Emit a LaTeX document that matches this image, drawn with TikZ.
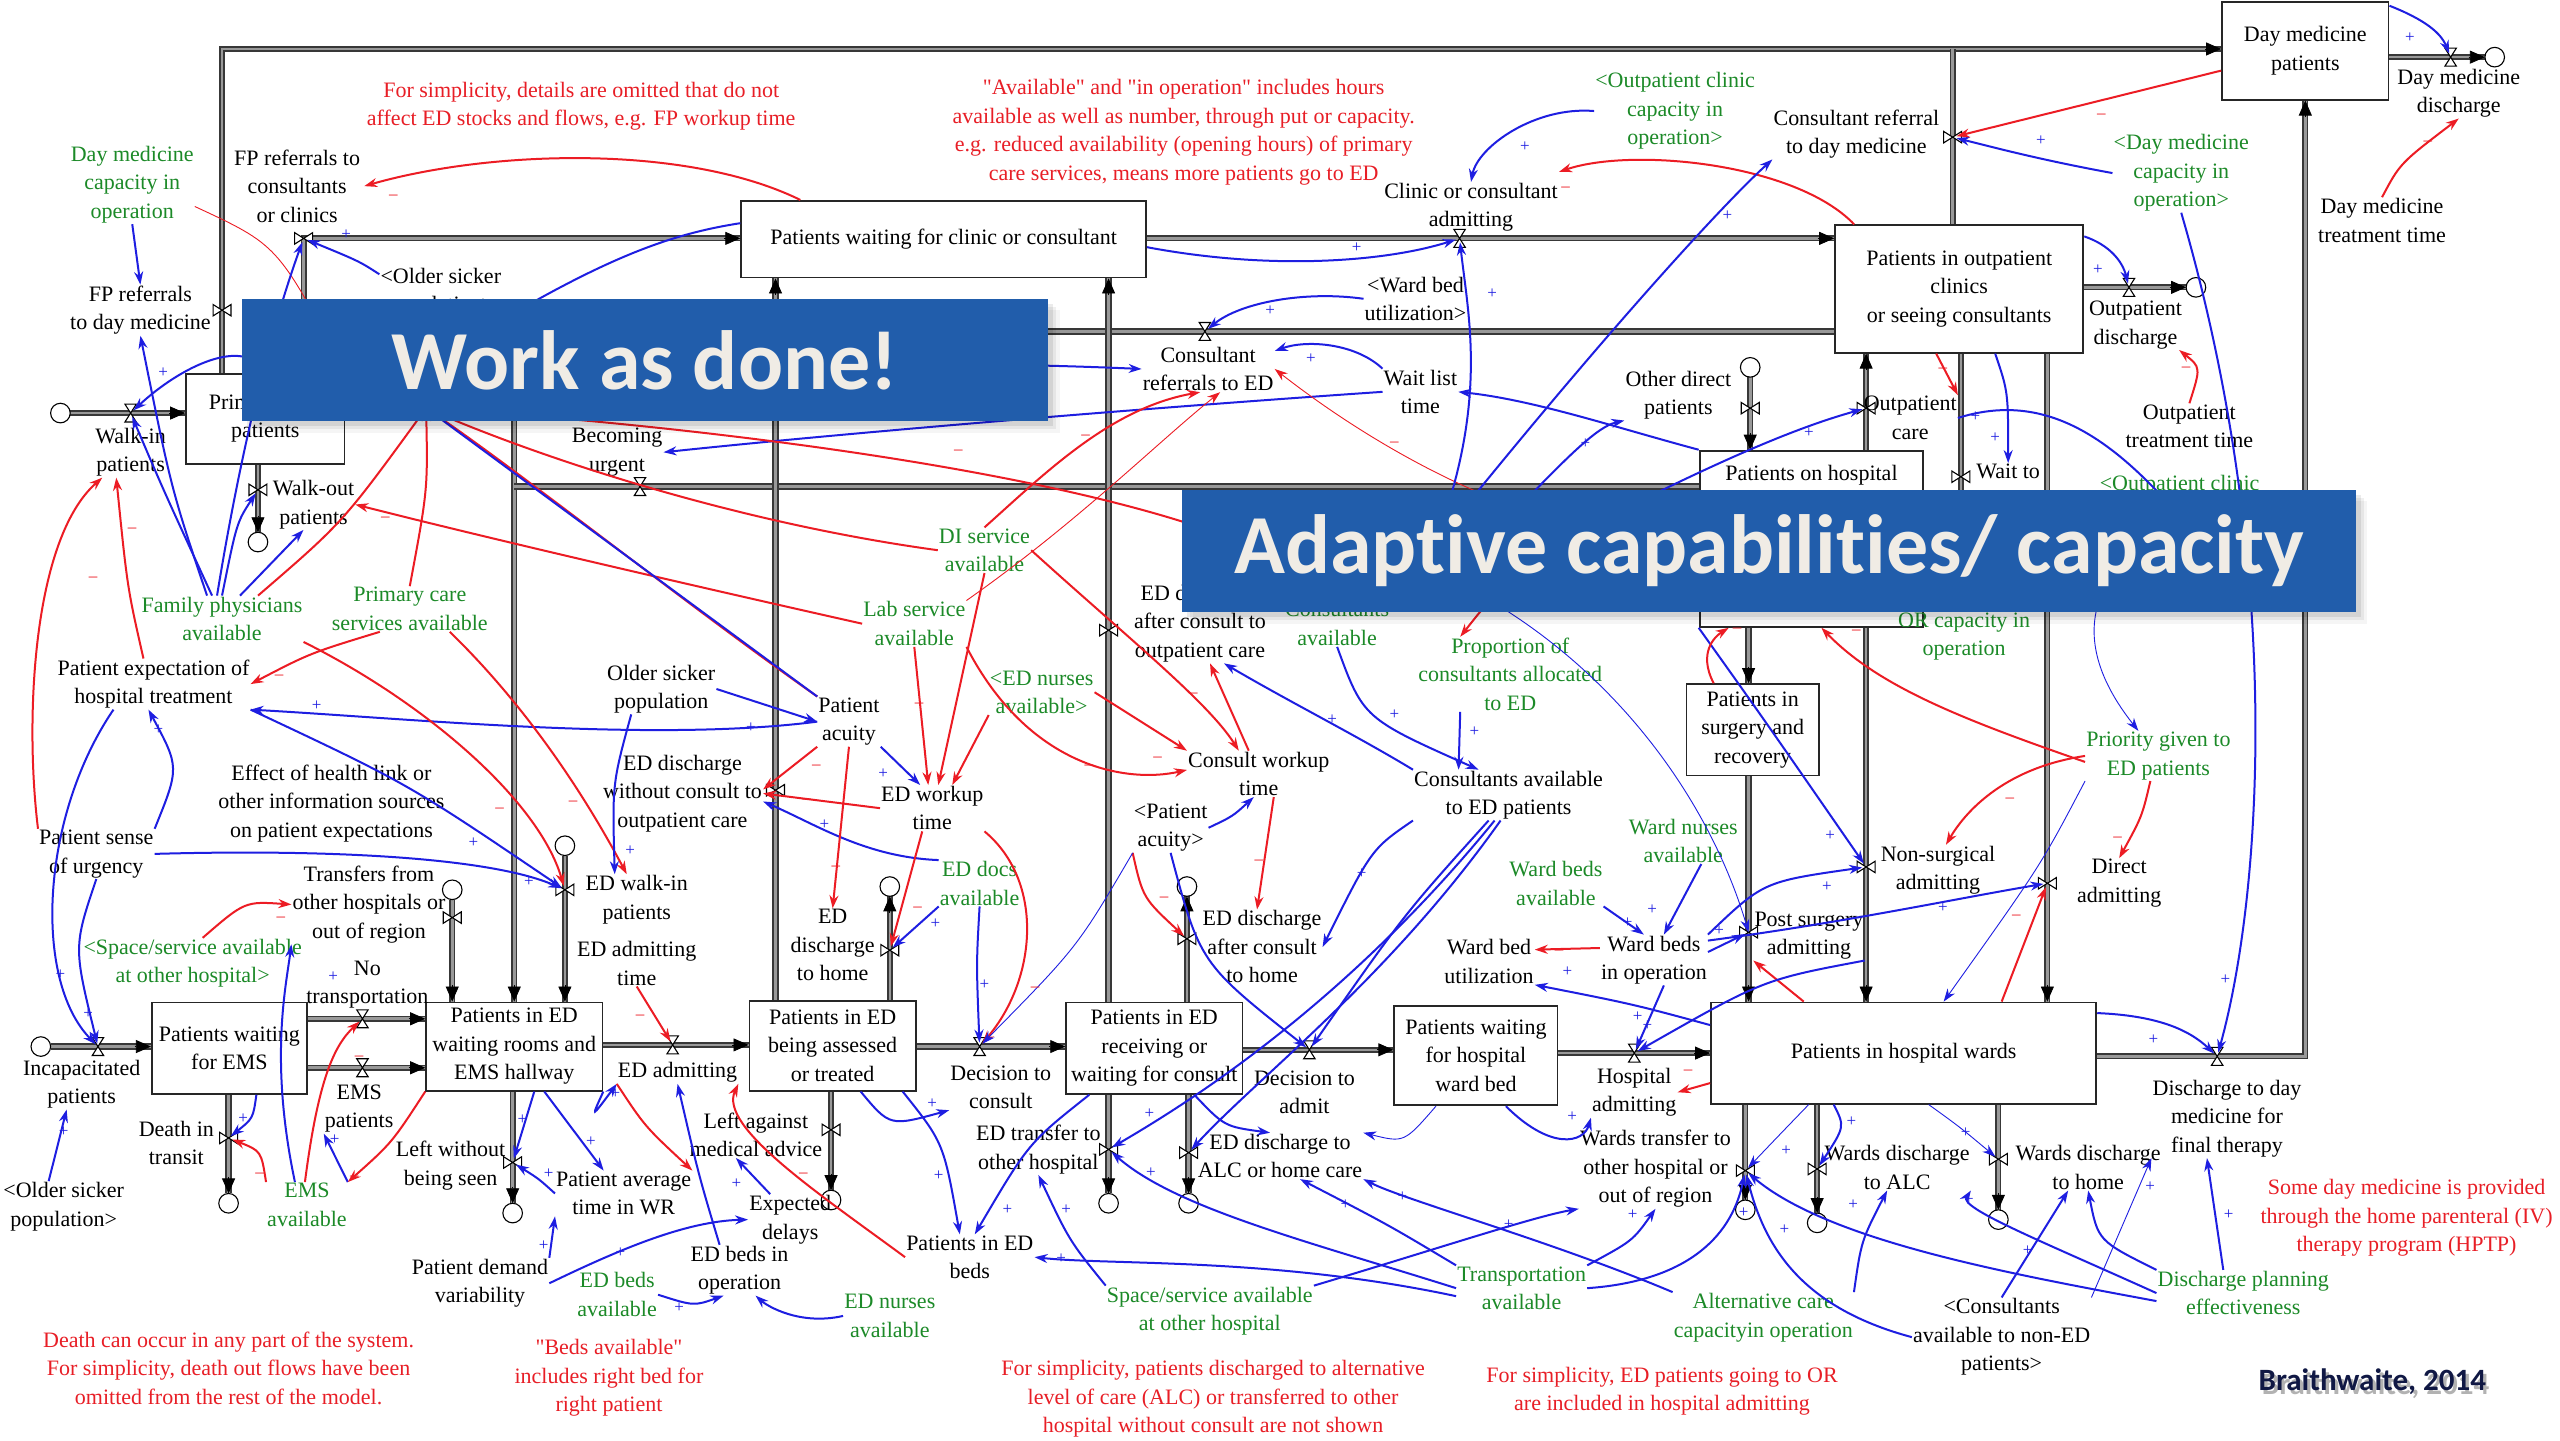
\documentclass[tikz,border=0pt]{standalone}
\usepackage{fontspec}
\setmainfont{Liberation Serif}
\newfontfamily\bannerfont[Ligatures={NoCommon}]{Carlito}
\usetikzlibrary{arrows.meta,calc}
\pgfdeclarelayer{paper}
\pgfdeclarelayer{pipes}
\pgfsetlayers{paper,pipes,main}
\definecolor{lblue}{RGB}{30,30,225}
\definecolor{lred}{RGB}{236,28,36}
\definecolor{vgreen}{RGB}{28,138,40}
\definecolor{nred}{RGB}{232,30,38}
\definecolor{banblue}{RGB}{33,93,171}
\definecolor{bantext}{RGB}{240,236,229}
\definecolor{navy}{RGB}{16,24,68}
\newcommand\dgf{\fontsize{22}{28.5}\selectfont}
\newcommand\sgf{\fontsize{17}{17}\selectfont}
\newcommand\q{\textquotedbl}
\tikzset{
  lbl/.style={font=\dgf, align=center, inner sep=1pt, text=black},
  glbl/.style={lbl, text=vgreen},
  note/.style={lbl, text=nred},
  stock/.style={draw=black!85, line width=1.8pt, fill=white, font=\dgf, align=center, inner sep=1pt},
  pipe/.style={draw=black!78, line width=1.8pt, double=black!40, double distance=2.6pt},
  ptip/.style={draw=black, line width=0.8pt, -{Triangle[length=15pt,width=13pt]}},
  lnk/.style={line width=2pt, -{Stealth[length=13pt,width=9pt]}},
  bl/.style={lnk, draw=lblue},
  blt/.style={bl, line width=0.9pt},
  rd/.style={lnk, draw=lred},
  rdt/.style={rd, line width=0.9pt},
  pl/.style={font=\sgf, text=lblue, inner sep=0pt},
  mi/.style={font=\sgf, text=lred, inner sep=0pt},
  valvepic/.pic={\draw[line width=1.1pt, fill=white] (-3.5,-5.5) -- (3.5,-5.5) -- (-3.5,5.5) -- (3.5,5.5) -- cycle;},
  cloudpic/.pic={\draw[line width=1.1pt, fill=white] (0,0) circle[radius=6];},
  banbox/.style={fill=banblue, inner sep=0pt, text=bantext, font=\bannerfont\bfseries\fontsize{84}{90}\selectfont},
}
\begin{document}
\begin{tikzpicture}[x=1.6327pt,y=-1.6327pt]
\begin{pgfonlayer}{paper}
\fill[white] (0,0) rectangle (1568,882);
\end{pgfonlayer}
\useasboundingbox (0,0) rectangle (1568,882);

% ---------- valve and cloud positions ----------
\coordinate (tl) at (136,30);
\coordinate (fpdmv) at (136,190);
\coordinate (fprv) at (186,146);
\coordinate (crdmv) at (1196,84);
\coordinate (dmdv) at (1501,35);
\coordinate (clinv) at (894,146);
\coordinate (credv) at (738,203);
\coordinate (edwx) at (315,203);
\coordinate (opdv) at (1304,176);
\coordinate (odpv) at (1072,250);
\coordinate (opcv) at (1143,250);
\coordinate (wtov) at (1201,292);
\coordinate (dadv) at (1254,541);
\coordinate (nsv) at (1143,531);
\coordinate (psv) at (1071,571);
\coordinate (buv) at (392,298);
\coordinate (pcv) at (261,250);
\coordinate (wiv) at (80,253);
\coordinate (wov) at (158,300);
\coordinate (edwocv) at (475,484);
\coordinate (edacv) at (679,386);
\coordinate (edwv) at (346,545);
\coordinate (trv) at (277,562);
\coordinate (incv) at (60,641);
\coordinate (ntv) at (222,624);
\coordinate (emv) at (222,654);
\coordinate (dtv) at (140,697);
\coordinate (edav) at (412,640);
\coordinate (lwv) at (314,712);
\coordinate (lav) at (509,692);
\coordinate (dcv) at (600,641);
\coordinate (edhv) at (545,582);
\coordinate (edchv) at (727,575);
\coordinate (edtv) at (679,704);
\coordinate (edalv) at (728,706);
\coordinate (dav) at (802,643);
\coordinate (hav) at (1001,645);
\coordinate (wtv) at (1069,717);
\coordinate (wav) at (1113,716);
\coordinate (whv) at (1224,710);
\coordinate (d2v) at (1358,647);
\coordinate (d2c) at (1412,647);
\coordinate (c_wi) at (37,253);
\coordinate (c_wo) at (158,332);
\coordinate (c_dm) at (1528,35);
\coordinate (c_op) at (1345,176);
\coordinate (c_odp) at (1072,225);
\coordinate (c_edw) at (346,518);
\coordinate (c_tr) at (277,545);
\coordinate (c_inc) at (25,641);
\coordinate (c_dt) at (140,737);
\coordinate (c_lw) at (314,743);
\coordinate (c_la) at (509,735);
\coordinate (c_edh) at (545,543);
\coordinate (c_edch) at (727,543);
\coordinate (c_edt) at (679,737);
\coordinate (c_edal) at (728,737);
\coordinate (c_wt) at (1069,741);
\coordinate (c_wa) at (1113,749);
\coordinate (c_wh) at (1224,747);

% ---------- stocks ----------
\path
  node[stock, minimum width=166.5pt, minimum height=98pt] (bdm) at (1412,31) {Day medicine\\patients}
  node[stock, minimum width=404.9pt, minimum height=76.7pt] (bpwc) at (578,146.5) {Patients waiting for clinic or consultant}
  node[stock, minimum width=248.2pt, minimum height=127.4pt] (bop) at (1200,177) {Patients in outpatient\\clinics\\or seeing consultants}
  node[stock, minimum width=158.4pt, minimum height=89.8pt] (bpc) at (162.5,256.5) {Primary care\\patients}
  node[stock, minimum width=223.7pt, minimum height=176.3pt] (bhw) at (1109.5,330) {}
  node[stock, minimum width=132.2pt, minimum height=91.4pt] (bsurg) at (1073.5,447) {Patients in\\surgery and\\recovery}
  node[stock, minimum width=155.1pt, minimum height=91.4pt] (bems) at (140.5,642) {Patients waiting\\for EMS}
  node[stock, minimum width=176.3pt, minimum height=88.2pt] (bwr) at (315,641) {Patients in ED\\waiting rooms and\\EMS hallway}
  node[stock, minimum width=166.5pt, minimum height=89.8pt] (bba) at (510,640.5) {Patients in ED\\being assessed\\or treated}
  node[stock, minimum width=176.3pt, minimum height=91.4pt] (brc) at (707,642) {Patients in ED\\receiving or\\waiting for consult}
  node[stock, minimum width=163.3pt, minimum height=99.6pt] (bwb) at (904,646.5) {Patients waiting\\for hospital\\ward bed}
  node[stock, minimum width=385.3pt, minimum height=101.2pt] (bwards) at (1166,645) {Patients in hospital wards};
\node[lbl] (bhwt) at (1109.5,291) {Patients on hospital};

% ---------- pipes (below the stocks) ----------
\begin{pgfonlayer}{pipes}
\draw[pipe] (bpc.north -| tl) -- (tl) -- (bdm.west |- tl);
\draw[pipe] (bpc.north -| fprv) -- (fprv) -- (bpwc.west |- fprv);
\draw[pipe] (bop.north -| crdmv) -- (crdmv |- tl);
\draw[pipe] (bdm.east |- dmdv) -- ($(c_dm)+(-6,0)$);
\draw[pipe] (bpwc.east |- clinv) -- (bop.west |- clinv);
\draw[pipe] (bop.west |- credv) -- (edwx) -- (bwr.north -| edwx);
\draw[pipe] (bop.east |- opdv) -- ($(c_op)+(-6,0)$);
\draw[pipe] ($(c_odp)+(0,6)$) -- (bhw.north -| c_odp);
\draw[pipe] (bhw.north -| opcv) -- (bop.south -| opcv);
\draw[pipe] (bop.south -| wtov) -- ($(wtov)+(0,22)$);
\draw[pipe] (bop.south -| dadv) -- (bwards.north -| dadv);
\draw[pipe] (bhw.south -| nsv) -- (bwards.north -| nsv);
\draw[pipe] (bhw.south -| psv) -- (bsurg.north -| psv);
\draw[pipe] (bsurg.south -| psv) -- (bwards.north -| psv);
\draw[pipe] (bhw.west |- buv) -- (buv -| edwx);
\draw[pipe] (bpc.east |- pcv) -- (pcv -| edwx);
\draw[pipe] ($(c_wi)+(6,0)$) -- (bpc.west |- wiv);
\draw[pipe] (bpc.south -| wov) -- ($(c_wo)+(0,-6)$);
\draw[pipe] (bba.north -| edwocv) -- (bpwc.south -| edwocv);
\draw[pipe] (brc.north -| edacv) -- (bpwc.south -| edacv);
\draw[pipe] ($(c_edw)+(0,6)$) -- (bwr.north -| edwv);
\draw[pipe] ($(c_tr)+(0,6)$) -- (bwr.north -| trv);
\draw[pipe] ($(c_inc)+(6,0)$) -- (bems.west |- incv);
\draw[pipe] (bems.east |- ntv) -- (bwr.west |- ntv);
\draw[pipe] (bems.east |- emv) -- (bwr.west |- emv);
\draw[pipe] (bems.south -| dtv) -- ($(c_dt)+(0,-6)$);
\draw[pipe] (bwr.east |- edav) -- (bba.west |- edav);
\draw[pipe] (bwr.south -| lwv) -- ($(c_lw)+(0,-6)$);
\draw[pipe] (bba.south -| lav) -- ($(c_la)+(0,-6)$);
\draw[pipe] (bba.east |- dcv) -- (brc.west |- dcv);
\draw[pipe] (bba.north -| edhv) -- ($(c_edh)+(0,6)$);
\draw[pipe] (brc.north -| edchv) -- ($(c_edch)+(0,6)$);
\draw[pipe] (brc.south -| edtv) -- ($(c_edt)+(0,-6)$);
\draw[pipe] (brc.south -| edalv) -- ($(c_edal)+(0,-6)$);
\draw[pipe] (brc.east |- dav) -- (bwb.west |- dav);
\draw[pipe] (bwb.east |- hav) -- (bwards.west |- hav);
\draw[pipe] (bwards.south -| wtv) -- ($(c_wt)+(0,-6)$);
\draw[pipe] (bwards.south -| wav) -- ($(c_wa)+(0,-6)$);
\draw[pipe] (bwards.south -| whv) -- ($(c_wh)+(0,-6)$);
\draw[pipe] (bwards.east |- d2v) -- (d2c) -- (bdm.south -| d2c);
\end{pgfonlayer}

% pipe arrow tips
\draw[ptip] ($(bdm.west |- tl)+(-10,0)$) -- (bdm.west |- tl);
\draw[ptip] ($(bpwc.west |- fprv)+(-10,0)$) -- (bpwc.west |- fprv);
\draw[ptip] ($(c_dm)+(-16,0)$) -- ($(c_dm)+(-6,0)$);
\draw[ptip] ($(bop.west |- clinv)+(-10,0)$) -- (bop.west |- clinv);
\draw[ptip] ($(bwr.north -| edwx)+(0,-10)$) -- (bwr.north -| edwx);
\draw[ptip] ($(c_op)+(-16,0)$) -- ($(c_op)+(-6,0)$);
\draw[ptip] ($(bhw.north -| c_odp)+(0,-10)$) -- (bhw.north -| c_odp);
\draw[ptip] ($(bop.south -| opcv)+(0,10)$) -- (bop.south -| opcv);
\draw[ptip] ($(bwards.north -| dadv)+(0,-10)$) -- (bwards.north -| dadv);
\draw[ptip] ($(bwards.north -| nsv)+(0,-10)$) -- (bwards.north -| nsv);
\draw[ptip] ($(bsurg.north -| psv)+(0,-10)$) -- (bsurg.north -| psv);
\draw[ptip] ($(bwards.north -| psv)+(0,-10)$) -- (bwards.north -| psv);
\draw[ptip] ($(bpc.west |- wiv)+(-10,0)$) -- (bpc.west |- wiv);
\draw[ptip] ($(c_wo)+(0,-16)$) -- ($(c_wo)+(0,-6)$);
\draw[ptip] ($(bpwc.south -| edwocv)+(0,10)$) -- (bpwc.south -| edwocv);
\draw[ptip] ($(bpwc.south -| edacv)+(0,10)$) -- (bpwc.south -| edacv);
\draw[ptip] ($(bwr.north -| edwv)+(0,-10)$) -- (bwr.north -| edwv);
\draw[ptip] ($(bwr.north -| trv)+(0,-10)$) -- (bwr.north -| trv);
\draw[ptip] ($(bems.west |- incv)+(-10,0)$) -- (bems.west |- incv);
\draw[ptip] ($(bwr.west |- ntv)+(-10,0)$) -- (bwr.west |- ntv);
\draw[ptip] ($(bwr.west |- emv)+(-10,0)$) -- (bwr.west |- emv);
\draw[ptip] ($(c_dt)+(0,-16)$) -- ($(c_dt)+(0,-6)$);
\draw[ptip] ($(bba.west |- edav)+(-10,0)$) -- (bba.west |- edav);
\draw[ptip] ($(c_lw)+(0,-16)$) -- ($(c_lw)+(0,-6)$);
\draw[ptip] ($(c_la)+(0,-16)$) -- ($(c_la)+(0,-6)$);
\draw[ptip] ($(brc.west |- dcv)+(-10,0)$) -- (brc.west |- dcv);
\draw[ptip] ($(c_edh)+(0,16)$) -- ($(c_edh)+(0,6)$);
\draw[ptip] ($(c_edch)+(0,16)$) -- ($(c_edch)+(0,6)$);
\draw[ptip] ($(c_edt)+(0,-16)$) -- ($(c_edt)+(0,-6)$);
\draw[ptip] ($(c_edal)+(0,-16)$) -- ($(c_edal)+(0,-6)$);
\draw[ptip] ($(bwb.west |- dav)+(-10,0)$) -- (bwb.west |- dav);
\draw[ptip] ($(bwards.west |- hav)+(-10,0)$) -- (bwards.west |- hav);
\draw[ptip] ($(c_wt)+(0,-16)$) -- ($(c_wt)+(0,-6)$);
\draw[ptip] ($(c_wa)+(0,-16)$) -- ($(c_wa)+(0,-6)$);
\draw[ptip] ($(c_wh)+(0,-16)$) -- ($(c_wh)+(0,-6)$);
\draw[ptip] ($(bdm.south -| d2c)+(0,10)$) -- (bdm.south -| d2c);

% valves and clouds
\foreach \v in {dmdv,clinv,credv,opdv,buv,wiv,incv,ntv,emv,edav,dcv,dav,hav,d2v}
  \pic at (\v) {valvepic};
\foreach \v in {fpdmv,fprv,crdmv,odpv,opcv,wtov,dadv,nsv,psv,edwocv,edacv,edwv,trv,dtv,lwv,lav,edhv,edchv,edtv,edalv,wtv,wav,whv,wov}
  \pic[rotate=90] at (\v) {valvepic};
\foreach \c in {c_wi,c_wo,c_dm,c_op,c_odp,c_edw,c_tr,c_inc,c_dt,c_lw,c_la,c_edh,c_edch,c_edt,c_edal,c_wt,c_wa,c_wh}
  \pic at (\c) {cloudpic};

% ---------- variable names ----------
\node[lbl] (cref2dm) at (1137,82) {Consultant referral\\to day medicine};
\node[lbl] (dmdis) at (1506,57) {Day medicine\\discharge};
\node[lbl] (dmtt) at (1459,135) {Day medicine\\treatment time};
\node[lbl] (clinadm) at (901,127) {Clinic or consultant\\admitting};
\node[lbl] (wbutil1) at (867,183) {<Ward bed\\utilization>};
\node[lbl] (opdis) at (1308,199) {Outpatient\\discharge};
\node[lbl] (optt) at (1341,261) {Outpatient\\treatment time};
\node[lbl] (cref2ed) at (740,226) {Consultant\\referrals to ED};
\node[lbl] (wlt) at (870,240) {Wait list\\time};
\node[lbl] (odp) at (1028,242) {Other direct\\patients};
\node[lbl] (opcare) at (1170,256) {Outpatient\\care};
\node[lbl] (waitto) at (1230,299) {Wait to\\surgery};
\node[lbl] (fpref) at (182,114) {FP referrals to\\consultants\\or clinics};
\node[lbl] (fpdm) at (86,190) {FP referrals\\to day medicine};
\node[lbl] (olds1) at (270,179) {<Older sicker\\population>};
\node[lbl] (walkin) at (80,277) {Walk-in\\patients};
\node[lbl] (walkout) at (192,309) {Walk-out\\patients};
\node[lbl] (becurg) at (378,277) {Becoming\\urgent};
\node[lbl] (pexp) at (94,419) {Patient expectation of\\hospital treatment};
\node[lbl] (effhl) at (203,492) {Effect of health link or\\other information sources\\on patient expectations};
\node[lbl] (psense) at (59,523) {Patient sense\\of urgency};
\node[lbl] (transf) at (226,554) {Transfers from\\other hospitals or\\out of region};
\node[lbl] (olds2) at (405,422) {Older sicker\\population};
\node[lbl] (pacu) at (520,442) {Patient\\acuity};
\node[lbl] (edwoc) at (418,486) {ED discharge\\without consult to\\outpatient care};
\node[lbl] (edwt) at (571,495) {ED workup\\time};
\node[lbl] (edwalk) at (390,551) {ED walk-in\\patients};
\node[lbl] (edat) at (390,590) {ED admitting\\time};
\node[lbl] (eddh) at (510,579) {ED\\discharge\\to home};
\node[lbl] (edac) at (735,382) {ED discharge\\after consult to\\outpatient care};
\node[lbl] (cwt) at (771,474) {Consult workup\\time};
\node[lbl] (pacu2) at (717,507) {<Patient\\acuity>};
\node[lbl] (edach) at (773,580) {ED discharge\\after consult\\to home};
\node[lbl] (cavail) at (924,487) {Consultants available\\to ED patients};
\node[lbl] (wbutil) at (912,589) {Ward bed\\utilization};
\node[lbl] (wbop) at (1013,588) {Ward beds\\in operation};
\node[lbl] (nsadm) at (1187,533) {Non-surgical\\admitting};
\node[lbl] (dadm) at (1298,541) {Direct\\admitting};
\node[lbl] (psadm) at (1108,573) {Post surgery\\admitting};
\node[lbl] (incap) at (50,664) {Incapacitated\\patients};
\node[lbl] (notrans) at (225,603) {No\\transportation};
\node[lbl] (emsp) at (220,679) {EMS\\patients};
\node[lbl] (death) at (108,700) {Death in\\transit};
\node[lbl] (edadm) at (415,657) {ED admitting};
\node[lbl] (lwbs) at (276,714) {Left without\\being seen};
\node[lbl] (lama) at (463,695) {Left against\\medical advice};
\node[lbl] (dcons) at (613,666) {Decision to\\consult};
\node[lbl] (edtr) at (636,704) {ED transfer to\\other hospital};
\node[lbl] (edalc) at (784,708) {ED discharge to\\ALC or home care};
\node[lbl] (dadmit) at (799,669) {Decision to\\admit};
\node[lbl] (hadm) at (1001,669) {Hospital\\admitting};
\node[lbl] (wtr) at (1014,716) {Wards transfer to\\other hospital or\\out of region};
\node[lbl] (wdalc) at (1162,715) {Wards discharge\\to ALC};
\node[lbl] (wdh) at (1279,715) {Wards discharge\\to home};
\node[lbl] (d2dm) at (1364,685) {Discharge to day\\medicine for\\final therapy};
\node[lbl] (olds3) at (39,739) {<Older sicker\\population>};
\node[lbl] (pawr) at (382,731) {Patient average\\time in WR};
\node[lbl] (pdv) at (294,786) {Patient demand\\variability};
\node[lbl] (edbop) at (453,778) {ED beds in\\operation};
\node[lbl] (expd) at (484,747) {Expected\\delays};
\node[lbl] (pedb) at (594,770) {Patients in ED\\beds};
\node[lbl] (cnon) at (1226,819) {<Consultants\\available to non-ED\\patients>};

% capacity variables
\node[glbl] (dmcap) at (81,113) {Day medicine\\capacity in\\operation};
\node[glbl] (opcap) at (1026,68) {<Outpatient clinic\\capacity in\\operation>};
\node[glbl] (dmcap2) at (1336,106) {<Day medicine\\capacity in\\operation>};
\node[glbl] (opclin2) at (1335,297) {<Outpatient clinic};
\node[glbl] (famphys) at (136,379) {Family physicians\\available};
\node[glbl] (pcs) at (251,373) {Primary care\\services available};
\node[glbl] (spother) at (118,590) {<Space/service available\\at other hospital>};
\node[glbl] (disvc) at (603,337) {DI service\\available};
\node[glbl] (lab) at (560,382) {Lab service\\available};
\node[glbl] (ednurse2) at (638,424) {<ED nurses\\available>};
\node[glbl] (cons) at (819,382) {Consultants\\available};
\node[glbl] (prop) at (925,413) {Proportion of\\consultants allocated\\to ED};
\node[glbl] (eddocs) at (600,541) {ED docs\\available};
\node[glbl] (wnurse) at (1031,515) {Ward nurses\\available};
\node[glbl] (wbav) at (953,541) {Ward beds\\available};
\node[glbl] (prio) at (1322,463) {Priority given to\\ED patients};
\node[glbl] (orcap) at (1203,390) {OR capacity in\\operation};
\node[glbl] (emsav) at (188,738) {EMS\\available};
\node[glbl] (edbav) at (378,793) {ED beds\\available};
\node[glbl] (ednurse) at (545,806) {ED nurses\\available};
\node[glbl] (spother2) at (741,803) {Space/service available\\at other hospital};
\node[glbl] (transp) at (932,789) {Transportation\\available};
\node[glbl] (altc) at (1080,807) {Alternative care\\capacityin operation};
\node[glbl] (dpe) at (1374,792) {Discharge planning\\effectiveness};

% notes
\node[note] (n1) at (356,65) {For simplicity, details are omitted that do not\\affect ED stocks and flows, e.g. FP workup time};
\node[note] (n2) at (725,81) {\q Available\q{} and \q in operation\q{} includes hours\\available as well as number, through put or capacity.\\e.g. reduced availability (opening hours) of primary\\care services, means more patients go to ED};
\node[note] (n3) at (140,838) {Death can occur in any part of the system.\\For simplicity, death out flows have been\\omitted from the rest of the model.};
\node[note] (n4) at (373,844) {\q Beds available\q\\includes right bed for\\right patient};
\node[note] (n5) at (743,857) {For simplicity, patients discharged to alternative\\level of care (ALC) or transferred to other\\hospital without consult are not shown};
\node[note] (n6) at (1018,852) {For simplicity, ED patients going to OR\\are included in hospital admitting};
\node[note] (n7) at (1474,746) {Some day medicine is provided\\through the home parenteral (IV)\\therapy program (HPTP)};

% ---------- causal links: top band ----------
\draw[rd] ([xshift=60pt]bpwc.north west) .. controls (420,88) and (300,92) .. ([xshift=3pt]fpref.east);
\draw[bl, shorten >=4pt] ([yshift=18pt]olds1.west) .. controls (220,160) .. (fprv);
\draw[bl] (dmcap.south) -- (fpdm.north);
\draw[rdt] ([yshift=-22pt]dmcap.east) .. controls (170,150) .. (bpc.north east);
\draw[bl] ([yshift=16pt]bpwc.west) .. controls (400,145) and (350,165) .. (bpc.east);
\draw[bl] (bpc) .. controls (400,222) and (560,220) .. (cref2ed.west);
\draw[bl] (wlt.west) .. controls (700,250) and (520,265) .. (becurg.east);
\draw[rd] (cons.north) .. controls (760,300) and (450,262) .. (pcv);
\draw[rd] (disvc.north) .. controls (640,290) and (680,250) .. ([xshift=-8pt]cref2ed.south);
\draw[rdt] (lab.north east) .. controls (660,320) and (710,270) .. ([xshift=12pt]cref2ed.south);
\draw[rdt] (bhw.west) .. controls (950,335) and (850,280) .. (cref2ed.east);
\draw[bl] (wlt.north west) .. controls (830,210) and (800,208) .. ([yshift=18pt]cref2ed.east);
\draw[bl, shorten >=4pt] ([yshift=-8pt]bpwc.east) .. controls (780,166) and (850,160) .. (clinv);
\draw[bl, shorten >=4pt] (wbutil1.west) .. controls (800,178) and (760,185) .. (credv);
\draw[bl] (opcap.west) .. controls (940,65) and (905,90) .. (clinadm.north);
\draw[rd] ([xshift=20pt]bop.north west) .. controls (1100,100) and (1000,90) .. ([yshift=10pt]clinadm.north east);
\draw[bl] (cons.north east) .. controls (960,230) and (1050,130) .. (cref2dm.south west);
\draw[bl, shorten >=4pt] ([xshift=20pt]cons.north east) .. controls (915,260) and (900,200) .. (clinv);
\draw[bl] (bhw.north west) .. controls (990,262) and (940,245) .. (wlt.east);
\draw[bl] ([xshift=40pt]cons.north east) .. controls (950,290) and (975,262) .. (odp.south west);
\draw[bl, shorten >=4pt] ([xshift=60pt]cons.north east) .. controls (1040,285) and (1100,262) .. (opcv);
\draw[bl, shorten >=4pt] (dmcap2.west) .. controls (1250,98) and (1220,90) .. (crdmv);
\draw[rd, shorten >=4pt] ([yshift=-20pt]bdm.west) -- (crdmv);
\draw[bl, shorten >=4pt] ([yshift=-5pt]bdm.north east) .. controls (1485,12) and (1495,20) .. (dmdv);
\draw[rd] (dmtt.north) .. controls (1470,100) .. (dmdis.south);
\draw[bl, shorten >=4pt] ([yshift=-12pt]bop.north east) .. controls (1292,150) and (1300,160) .. (opdv);
\draw[rd] (optt.north) .. controls (1348,225) .. ([xshift=-4pt]opdis.south east);
\draw[rd] ([xshift=-23pt]bop.south) -- (opcare.north east);
\draw[bl] ([xshift=36pt]bop.south) .. controls (1230,240) .. (waitto.north);
\draw[bl] (opcare.east) .. controls (1250,240) and (1290,265) .. ([yshift=-20pt]opclin2.south);

% ---------- causal links: primary care side ----------
\draw[bl] ([xshift=-15pt]famphys.north) .. controls (105,300) .. (fpdm.south);
\draw[bl, shorten >=4pt] ([xshift=-10pt]famphys.north) .. controls (100,300) .. (wiv);
\draw[bl, shorten >=4pt] ([xshift=-5pt]famphys.north) .. controls (150,260) and (170,190) .. (fprv);
\draw[bl, shorten >=4pt] (famphys.north) .. controls (145,320) .. (wov);
\draw[bl] ([xshift=18pt]famphys.north) -- ([xshift=-10pt]walkout.south);
\draw[rd] ([xshift=36pt]famphys.north) .. controls (210,320) .. (pcv);
\draw[rd] (pcs.north) .. controls (262,300) .. (pcv);
\draw[rd] ([xshift=-30pt]pcs.south) .. controls (190,400) .. (pexp.east);
\draw[bl, shorten >=4pt] (bpc.north) .. controls (150,205) and (110,225) .. (wiv);
\draw[rd] (psense.north west) .. controls (15,440) and (20,330) .. ([xshift=8pt]walkin.south west);
\draw[rd] ([xshift=-10pt]pexp.north) .. controls (78,360) .. ([xshift=22pt]walkin.south west);
\draw[bl, shorten >=3pt] ([xshift=-40pt]pexp.south) .. controls (25,500) and (20,600) .. (incv);
\draw[bl, shorten >=3pt] (psense.south) .. controls (45,580) .. (incv);
\draw[bl] ([xshift=-15pt]olds3.north) -- ([xshift=-15pt]incap.south);
\draw[bl] (psense.north east) .. controls (110,470) .. ([xshift=-5pt]pexp.south);
\draw[bl] (pacu.west) .. controls (400,455) and (250,440) .. (pexp.south east);
\draw[bl, shorten >=4pt] (pexp.south east) .. controls (250,480) .. (edwv);
\draw[bl, shorten >=4pt] (psense.east) .. controls (200,520) and (300,525) .. (edwv);
\draw[rd, shorten >=4pt] (famphys.south east) .. controls (260,430) and (330,490) .. (edwv);
\draw[rd] ([xshift=40pt]pcs.south) .. controls (330,440) and (365,500) .. ([xshift=-10pt]edwalk.north);
\draw[bl] ([xshift=-30pt]olds2.south) .. controls (375,480) .. ([xshift=-22pt]edwalk.north);
\draw[bl] (olds2.east) -- (pacu.west);
\draw[rd] (lab.west) .. controls (430,360) and (300,330) .. (walkout.east);
\draw[rd] (disvc.west) .. controls (450,320) and (330,280) .. (pcv);
\draw[rd] (pacu.north west) .. controls (420,370) and (320,290) .. (pcv);
\draw[bl] (pacu.north west) -- (pcv);

% ---------- causal links: ED work-up ----------
\draw[rd] (pacu.south west) -- ([yshift=4pt]edwoc.east);
\draw[rd] (edwt.west) -- (edwoc.east);
\draw[bl] (eddocs.north west) .. controls (530,525) and (500,505) .. ([yshift=-8pt]edwoc.east);
\draw[rd] (pacu.south) -- (eddh.north);
\draw[bl] (pacu.south east) -- ([xshift=-12pt]edwt.north);
\draw[rd] (lab.south) -- ([xshift=-4pt]edwt.north);
\draw[rd] (disvc.south) -- ([xshift=6pt]edwt.north);
\draw[rd] (ednurse2.south west) -- ([xshift=20pt]edwt.north);
\draw[rd, shorten >=4pt] ([xshift=-10pt]edwt.south) -- (edhv);
\draw[rd, shorten >=4pt] (edwt.south east) .. controls (640,540) and (635,600) .. (dcv);
\draw[bl, shorten >=4pt] (eddocs.south west) -- (edhv);
\draw[bl, shorten >=4pt] (eddocs.south) .. controls (598,590) .. (dcv);
\draw[rd] (lab.south east) .. controls (630,470) and (690,480) .. ([yshift=4pt]cwt.west);
\draw[rd] (disvc.east) .. controls (690,390) and (740,430) .. ([xshift=-20pt]cwt.north);
\draw[rd] (ednurse2.east) -- (cwt.north west);
\draw[rd] ([xshift=-10pt]cwt.north) -- ([xshift=10pt]edac.south);
\draw[bl] (cavail.north west) .. controls (830,450) and (790,430) .. ([xshift=24pt]edac.south);
\draw[bl] (pacu2.east) .. controls (755,500) .. ([xshift=-5pt]cwt.south);
\draw[rd] ([xshift=15pt]cwt.south) -- ([xshift=-5pt]edach.north);
\draw[rd, shorten >=4pt] (pacu2.south west) .. controls (700,550) .. (edchv);
\draw[blt, shorten >=4pt] (pacu2.south west) .. controls (660,580) .. (dcv);
\draw[bl, shorten >=4pt] (pacu2.south) .. controls (735,590) .. (dav);
\draw[bl] (cavail.south west) .. controls (840,520) .. (edach.east);
\draw[bl, shorten >=4pt] ([xshift=-20pt]cavail.south) .. controls (860,560) .. (dav);
\draw[bl, shorten >=4pt] ([xshift=-14pt]cavail.south) .. controls (820,620) and (720,680) .. (edtv);
\draw[bl, shorten >=4pt] ([xshift=-8pt]cavail.south) .. controls (850,600) and (770,660) .. (edalv);
\draw[bl] (cons.south) .. controls (835,440) .. ([xshift=-30pt]cavail.north);
\draw[bl] ([xshift=-50pt]prop.south) -- ([xshift=-50pt]cavail.north);
\draw[rd] (bhw.west) .. controls (930,345) .. ([xshift=-50pt]prop.north);
\draw[blt] ([xshift=100pt]cons.north east) .. controls (1000,420) and (1050,500) .. (psv);

% ---------- causal links: hospital side ----------
\draw[bl, shorten >=4pt] (bhw.south west) .. controls (1080,440) .. (nsv);
\draw[bl, shorten >=4pt] (wbop.north east) .. controls (1080,540) .. (nsv);
\draw[rd] (prio.west) .. controls (1230,470) and (1205,495) .. ([xshift=8pt]nsadm.north);
\draw[rd] ([yshift=-6pt]prio.west) .. controls (1200,440) and (1150,420) .. ([xshift=10pt]bhw.south);
\draw[rd] ([xshift=-8pt]prio.south) .. controls (1312,500) .. (dadm.north);
\draw[blt] ([yshift=-20pt]opclin2.south) .. controls (1260,360) and (1280,410) .. ([xshift=-20pt]prio.north);
\draw[blt] (prio.south west) .. controls (1250,530) .. ([xshift=40pt]bwards.north);
\draw[bl, shorten >=4pt] ([yshift=-6pt]wbop.north east) .. controls (1130,565) and (1200,550) .. (dadv);
\draw[rd, shorten >=4pt] ([xshift=98pt]bwards.north) -- (dadv);
\draw[bl] ([xshift=18pt]wnurse.south) -- ([xshift=10pt]wbop.north);
\draw[bl] (wbav.south east) -- ([xshift=-10pt]wbop.north);
\draw[rd] ([yshift=12pt]wbop.west) -- ([yshift=12pt]wbutil.east);
\draw[bl, shorten >=4pt] ([yshift=8pt]wbop.east) -- (psv);
\draw[rd] ([xshift=-100pt]bwards.north) -- (psadm.south west);
\draw[rd] ([xshift=28pt]bsurg.north west) .. controls (1040,400) and (1050,390) .. ([xshift=30pt]bhw.south west);
\draw[bl, shorten >=4pt] ([xshift=10pt]wbop.south) -- (hav);
\draw[bl, shorten >=4pt] (psadm.south east) .. controls (1080,600) .. (hav);
\draw[rd] ([yshift=-30pt]bwards.west) -- (hadm.east);
\draw[bl] ([yshift=28pt]bwards.west) .. controls (1000,615) .. (wbutil.south east);
\draw[bl] ([xshift=30pt]bwb.south) .. controls (950,705) and (970,700) .. (hadm.south west);
\draw[blt] ([xshift=-40pt]bwb.south) .. controls (860,700) .. (edalc.north east);

% ---------- causal links: EMS and ED front end ----------
\draw[rd, shorten >=4pt] (emsav.north west) .. controls (160,705) .. (dtv);
\draw[rd, shorten >=4pt] ([xshift=-2pt]emsav.north) .. controls (195,660) and (205,640) .. (ntv);
\draw[bl] (emsav.north east) -- (emsp.south west);
\draw[bl] ([xshift=-12pt]emsav.north) .. controls (165,650) and (175,605) .. (transf.south west);
\draw[rd] ([xshift=10pt]spother.north) .. controls (150,552) .. (transf.west);
\draw[bl, shorten >=3pt] ([xshift=27pt]bems.south) .. controls (155,685) .. (dtv);
\draw[rd] (bwr.south west) .. controls (240,700) .. (emsav.north east);
\draw[bl, shorten >=4pt] ([xshift=20pt]bwr.south) -- (lwv);
\draw[bl, shorten >=4pt] (pawr.west) .. controls (330,722) .. (lwv);
\draw[bl] ([xshift=30pt]bwr.south) -- ([xshift=-20pt]pawr.north);
\draw[bl] (bwr.south east) .. controls (362,685) .. (edadm.south west);
\draw[bl] (pdv.north east) -- (pawr.south west);
\draw[bl] (pdv.east) .. controls (380,765) and (420,748) .. (expd.west);
\draw[bl] (edbav.east) .. controls (425,800) .. ([xshift=-16pt]edbop.south);
\draw[bl] (ednurse.west) .. controls (490,812) and (470,800) .. ([xshift=16pt]edbop.south);
\draw[bl] ([xshift=-20pt]edbop.north) .. controls (428,720) .. (edadm.south);
\draw[bl] ([xshift=-20pt]expd.north) -- ([xshift=-20pt]lama.south);
\draw[rd] (pedb.west) .. controls (500,730) and (440,690) .. (edadm.south east);
\draw[rd, shorten >=4pt] (edat.south) -- (edav);
\draw[rd] (edadm.south west) .. controls (395,690) .. (pawr.north east);
\draw[bl] ([xshift=28pt]bba.south) .. controls (545,690) .. (dcons.south west);
\draw[bl] ([xshift=70pt]bba.south) .. controls (578,700) .. ([xshift=-10pt]pedb.north);
\draw[bl] ([xshift=-65pt]brc.south) .. controls (630,700) .. ([xshift=5pt]pedb.north);
\draw[bl] ([xshift=40pt]brc.south) .. controls (750,690) .. ([xshift=-10pt]edalc.north);

% ---------- causal links: discharge side ----------
\draw[bl, shorten >=4pt] (transp.west) .. controls (800,760) and (720,740) .. (edtv);
\draw[bl] ([yshift=-8pt]transp.west) .. controls (780,770) and (680,775) .. (pedb.east);
\draw[bl] (spother2.north west) .. controls (655,760) .. (edtr.south);
\draw[bl] (altc.north west) .. controls (950,760) and (860,735) .. (edalc.south east);
\draw[bl] (transp.north east) .. controls (1000,760) .. (wtr.south);
\draw[bl] (spother2.north east) .. controls (880,765) and (940,745) .. (wtr.south west);
\draw[bl] (transp.north west) .. controls (850,750) .. ([xshift=20pt]edalc.south);
\draw[bl, shorten >=4pt] (transp.east) .. controls (1030,785) and (1060,760) .. (wtv);
\draw[bl] (cnon.north) -- ([xshift=-20pt]wdh.south);
\draw[bl] (dpe.north west) .. controls (1285,760) .. (wdh.south);
\draw[blt] (cnon.north east) -- (d2dm.south west);
\draw[bl] ([xshift=-20pt]dpe.north) -- ([xshift=-20pt]d2dm.south);
\draw[bl] (dpe.west) .. controls (1250,760) and (1200,740) .. (wdalc.south east);
\draw[bl, shorten >=4pt] ([yshift=-8pt]dpe.west) .. controls (1230,780) and (1120,760) .. (wtv);
\draw[bl] (altc.north east) .. controls (1140,760) .. ([xshift=-10pt]wdalc.south);
\draw[bl, shorten >=4pt] (cnon.west) .. controls (1100,800) and (1080,760) .. (wtv);
\draw[bl, shorten >=4pt] ([xshift=-70pt]bwards.south) .. controls (1130,690) .. (wav);
\draw[blt, shorten >=4pt] ([xshift=-95pt]bwards.south) .. controls (1090,695) .. (wtv);
\draw[blt, shorten >=4pt] ([xshift=25pt]bwards.south) .. controls (1200,690) .. (whv);
\draw[bl, shorten >=4pt] ([yshift=40pt]bwards.east) .. controls (1320,622) and (1340,630) .. (d2v);
\draw[bl, shorten >=4pt] (dmcap2.south) .. controls (1400,350) and (1385,550) .. (d2v);

% ---------- link polarities ----------
\foreach \x/\y [count=\i] in {934/90,831/152,914/180,778/190,803/220,1058/132,971/272,1108/265,1250/86,1476/23,1285/165,1222/268,1210/255,
  97/447,194/432,290/516,324/540,386/521,460/446,37/597,54/621,39/693,212/144,100/228,
  505/505,541/474,573/566,603/603,854/438,903/448,834/535,816/441,1121/512,1119/543,1012/557,997/565,1053/570,1003/623,1009/628,960/595,963/684,1190/556,
  205/698,204/598,149/685,320/686,336/719,362/699,377/670,333/763,380/767,416/801,451/725,571/676,575/720,617/741,705/718,650/771,653/741,859/733,1000/744,924/750,824/738,1068/743,1242/766,1317/727,1365/744,1206/735,1135/738,1093/753,1134/687,1094/705,1204/694,1319/637,1363/600,704/682}
  \node[pl] (p\i) at (\x,\y) {+};
\foreach \x/\y [count=\i] in {241/121,959/116,854/272,1287/71,1487/88,1339/226,1190/227,57/355,81/325,171/415,236/318,306/496,351/492,500/470,494/491,512/532,563/432,562/557,667/470,709/465,731/426,713/551,771/528,1231/490,1297/514,1137/387,1064/386,955/583,1034/657,1235/562,159/720,220/648,217/722,172/563,492/720,392/623,634/606,587/277,665/268}
  \node[mi] (m\i) at (\x,\y) {--};

% ---------- overlay banners ----------
\foreach \o/\a in {7/0.04,5/0.06,3/0.08}{
  \fill[black, opacity=\a] (148+\o,183+\o) rectangle (642+\o,258+\o);
  \fill[black, opacity=\a] (724+\o,300+\o) rectangle (1443+\o,375+\o);
}
\node[banbox, minimum width=806.6pt, minimum height=122.5pt] (ban1) at (395,220.5) {Work as done!};
\node[banbox, minimum width=1173.9pt, minimum height=122.5pt] (ban2) at (1083.5,337.5) {Adaptive capabilities/ capacity};
\node[text=black!30, font=\bannerfont\bfseries\fontsize{31}{31}\selectfont] (cite0) at (1455,848.5) {Braithwaite, 2014};
\node[text=navy, font=\bannerfont\bfseries\fontsize{31}{31}\selectfont] (cite) at (1453,846.5) {Braithwaite, 2014};
\end{tikzpicture}
\end{document}
